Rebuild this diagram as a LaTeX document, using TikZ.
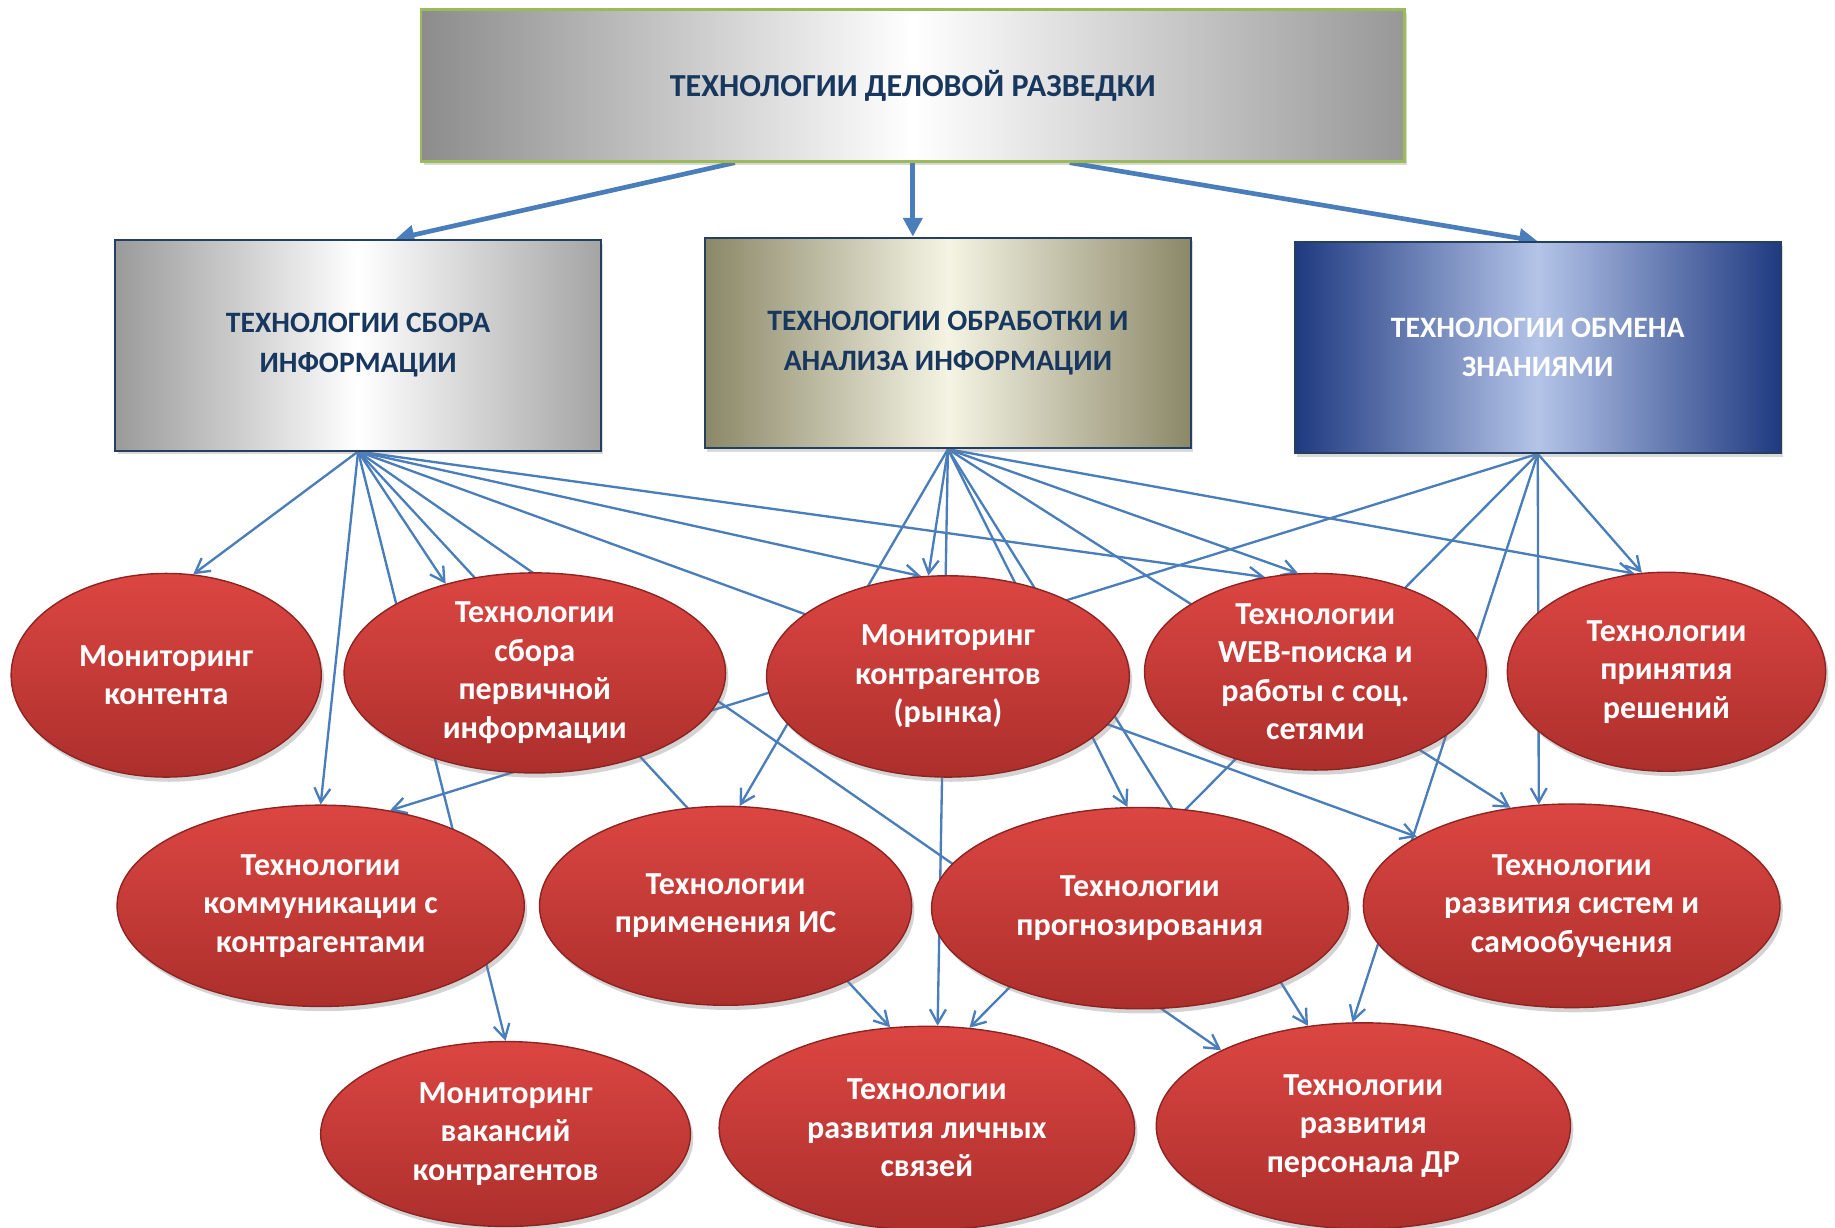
\documentclass[tikz,border=0pt]{standalone}
\usepackage{fontspec}
\setmainfont{Carlito}
\usepackage{xcolor}
\usepackage{tikz}
\usetikzlibrary{positioning,arrows.meta,shapes,shadows,backgrounds,calc}

\definecolor{linkblue}{HTML}{4A7EBB}
\definecolor{titleblue}{HTML}{17375E}
\definecolor{headframe}{HTML}{9BBB59}
\definecolor{headside}{HTML}{8C8C8C}
\definecolor{groupframe}{HTML}{243F60}
\definecolor{greyside}{HTML}{9A9A9A}
\definecolor{oliveside}{HTML}{8B8868}
\definecolor{olivemid}{HTML}{F5F4E4}
\definecolor{navyside}{HTML}{1F3A80}
\definecolor{navymid}{HTML}{B4C4E8}
\definecolor{techtop}{HTML}{DC4642}
\definecolor{techbottom}{HTML}{AC2F2C}
\definecolor{techrim}{HTML}{8E2421}

\tikzset{
	every node/.style = {font=\bfseries\fontsize{19.5}{23.4}\selectfont, inner sep = 0, align=center},
	head/.style = {rectangle, draw=headframe, line width=0.5mm, minimum width=210mm, minimum height=32.5mm,
		left color=headside, right color=headside!90, middle color=white, text=titleblue,
		drop shadow={opacity=0.3, shadow xshift=0.5mm, shadow yshift=-0.8mm}},
	group/.style = {rectangle, draw=groupframe, line width=0.4mm, minimum width=103.75mm, minimum height=45mm,
		font=\bfseries\fontsize{18}{24}\selectfont,
		drop shadow={opacity=0.3, shadow xshift=0.5mm, shadow yshift=-0.8mm}},
	tech/.style = {ellipse, draw=techrim, line width=0.3mm, top color=techtop, bottom color=techbottom, text=white,
		drop shadow={opacity=0.35, shadow xshift=0.6mm, shadow yshift=-1mm}},
	link/.style = {every edge/.style={draw=linkblue, line width=0.5mm, -{Straight Barb[length=3mm, width=3.4mm]}}},
	mainlink/.style = {draw=linkblue, line width=1mm, -{Triangle[length=4mm, width=4mm]}},
}

\begin{document}
\begin{tikzpicture}[x=0.25mm, y=-0.25mm]
		\useasboundingbox (0,0) rectangle (1568,1049);
		\node[head] (razvedka) at (780,73) {ТЕХНОЛОГИИ ДЕЛОВОЙ РАЗВЕДКИ};
		
		\node[group, left color=greyside, right color=greyside!90, middle color=white, text=titleblue] (collection) at (306,295) {ТЕХНОЛОГИИ СБОРА\\ИНФОРМАЦИИ};
		\node[group, left color=oliveside, right color=oliveside, middle color=olivemid, text=titleblue] (processing) at (810,293) {ТЕХНОЛОГИИ ОБРАБОТКИ И\\АНАЛИЗА ИНФОРМАЦИИ};
		\node[group, left color=navyside, right color=navyside, middle color=navymid, text=white] (exchange) at (1314,297) {ТЕХНОЛОГИИ ОБМЕНА\\ЗНАНИЯМИ};
		
		% first row
		\node[tech, minimum width=66.25mm, minimum height=43.5mm] (contentmon) at (142,577) {Мониторинг\\контента};
		\node[tech, minimum width=81.5mm, minimum height=42.5mm] (primarydata) at (457,575) {Технологии\\сбора\\первичной\\информации};
		\node[tech, minimum width=77.5mm, minimum height=43mm] (marketmon) at (810,578) {Мониторинг\\контрагентов\\(рынка)};
		\node[tech, minimum width=73mm, minimum height=42mm] (websearch) at (1124,574) {Технологии\\WEB-поиска и\\работы с соц.\\сетями};
		\node[tech, minimum width=68mm, minimum height=42.5mm] (decisions) at (1424,574) {Технологии\\принятия\\решений};
		% second row
		\node[tech, minimum width=87mm, minimum height=43mm] (communication) at (274,774) {Технологии\\коммуникации с\\контрагентами};
		\node[tech, minimum width=79.5mm, minimum height=42.5mm] (isuse) at (620,774) {Технологии\\применения ИС};
		\node[tech, minimum width=89mm, minimum height=43mm] (forecasting) at (974,776) {Технологии\\прогнозирования};
		\node[tech, minimum width=89mm, minimum height=43.5mm] (selflearning) at (1343,774) {Технологии\\развития систем и\\самообучения};
		% third row
		\node[tech, minimum width=79mm, minimum height=39.5mm] (vacancies) at (432,969) {Мониторинг\\вакансий\\контрагентов};
		\node[tech, minimum width=88.75mm, minimum height=43.5mm] (personalties) at (792,964) {Технологии\\развития личных\\связей};
		\node[tech, minimum width=88.5mm, minimum height=44mm] (staffdev) at (1165,962) {Технологии\\развития\\персонала ДР};
		
		\begin{scope}[on background layer]
		\draw[mainlink] ($(razvedka.south)+(-152,0)$) -- ($(collection.north)+(32,0)$);
		\draw[mainlink] (razvedka.south) -- ($(processing.north)+(-30,0)$);
		\draw[mainlink] ($(razvedka.south)+(134,0)$) -- (exchange.north);
		
		\path[link] (collection.south) edge (contentmon.75) edge (communication.north) edge (vacancies.north)
			edge (primarydata.135) edge (personalties.110) edge (staffdev.152) edge (selflearning.156)
			edge (marketmon.105) edge (websearch.118);
		\path[link] (processing.south) edge (marketmon.101) edge (personalties.84) edge (isuse.82)
			edge (forecasting.97) edge (staffdev.119) edge (selflearning.122) edge (websearch.100) edge (decisions.108);
		\path[link] (exchange.south) edge (communication.54) edge (personalties.67) edge (staffdev.96)
			edge (selflearning.108) edge (decisions.104);
		\end{scope}
\end{tikzpicture}
\end{document}
